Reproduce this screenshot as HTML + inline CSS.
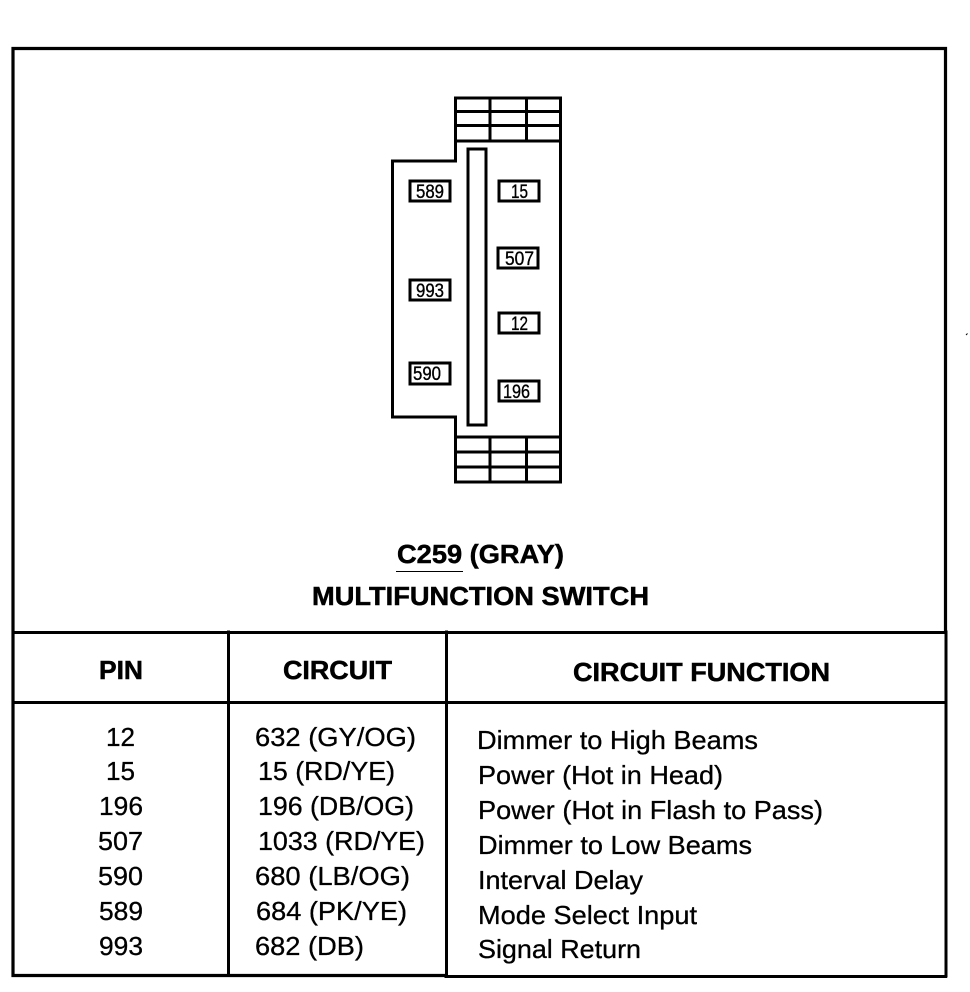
<!DOCTYPE html>
<html><head><meta charset="utf-8"><style>
html,body{margin:0;padding:0;background:#fff;width:970px;height:992px;overflow:hidden}
svg{display:block}
text{font-family:"Liberation Sans",sans-serif;fill:#000;stroke:#000;stroke-width:.3px}
.b{font-weight:bold;font-size:26px;stroke-width:.5px}
.r{font-size:26px}
.p{font-size:19px;stroke-width:.35px}
.l{stroke:#000;fill:none;stroke-linecap:square}
</style></head><body>
<svg width="970" height="992" viewBox="0 0 970 992" xmlns="http://www.w3.org/2000/svg">
<rect width="970" height="992" fill="#fff"/>
<!-- frame -->
<path class="l" stroke-width="3.2" d="M13 48.500H945.500V632M13 48.500V975.500H446"/>
<path class="l" stroke-width="3" d="M446 976.500H945.500M946 632V976M13 632.500H946M13 702.500H946M228.500 632V975M446.500 632V976"/>
<!-- connector -->
<path class="l" stroke-width="3" d="M455.500 98H560.500V482H455.500V437H560.500M455.500 98V161H392.500V417H455.500V437M455.500 111.500H560.500M455.500 125.500H560.500M455.500 141H560.500M455.500 452H560.500M455.500 467H560.500M490 98V141M526.500 98V141M490 437V482M526.500 437V482"/>
<rect class="l" stroke-width="3" x="468" y="149" width="18" height="276"/>
<g class="l" stroke-width="3">
<rect x="410" y="181" width="40" height="20"/>
<rect x="499" y="181" width="40" height="20"/>
<rect x="498" y="248" width="40" height="20"/>
<rect x="410" y="280" width="40" height="20"/>
<rect x="499" y="313" width="40" height="20"/>
<rect x="410" y="363" width="40" height="21"/>
<rect x="499" y="381" width="40" height="20"/>
</g>
<text class="p" x="416" y="198" textLength="28" lengthAdjust="spacingAndGlyphs">589</text>
<text class="p" x="511" y="198" textLength="17" lengthAdjust="spacingAndGlyphs">15</text>
<text class="p" x="505" y="265" textLength="29" lengthAdjust="spacingAndGlyphs">507</text>
<text class="p" x="416" y="297" textLength="28" lengthAdjust="spacingAndGlyphs">993</text>
<text class="p" x="511" y="330" textLength="17" lengthAdjust="spacingAndGlyphs">12</text>
<text class="p" x="413" y="380" textLength="28" lengthAdjust="spacingAndGlyphs">590</text>
<text class="p" x="503" y="398" textLength="27" lengthAdjust="spacingAndGlyphs">196</text>
<!-- titles -->
<text class="b" x="397" y="563" textLength="167" lengthAdjust="spacingAndGlyphs">C259 (GRAY)</text>
<path d="M396 571.500H463" stroke="#000" stroke-width="1"/>
<text class="b" x="312" y="605" textLength="337" lengthAdjust="spacingAndGlyphs">MULTIFUNCTION SWITCH</text>
<text class="b" x="99" y="679" textLength="44" lengthAdjust="spacingAndGlyphs">PIN</text>
<text class="b" x="283" y="679" textLength="109" lengthAdjust="spacingAndGlyphs">CIRCUIT</text>
<text class="b" x="573" y="681" textLength="257" lengthAdjust="spacingAndGlyphs">CIRCUIT FUNCTION</text>
<!-- pins -->
<text class="r" x="106" y="746" textLength="29" lengthAdjust="spacingAndGlyphs">12</text>
<text class="r" x="106" y="780" textLength="29" lengthAdjust="spacingAndGlyphs">15</text>
<text class="r" x="99" y="815" textLength="44" lengthAdjust="spacingAndGlyphs">196</text>
<text class="r" x="98" y="850" textLength="45" lengthAdjust="spacingAndGlyphs">507</text>
<text class="r" x="98" y="885" textLength="45" lengthAdjust="spacingAndGlyphs">590</text>
<text class="r" x="99" y="920" textLength="44" lengthAdjust="spacingAndGlyphs">589</text>
<text class="r" x="99" y="955" textLength="44" lengthAdjust="spacingAndGlyphs">993</text>
<!-- circuits -->
<text class="r" x="255" y="746" textLength="161" lengthAdjust="spacingAndGlyphs">632 (GY/OG)</text>
<text class="r" x="258" y="780" textLength="137" lengthAdjust="spacingAndGlyphs">15 (RD/YE)</text>
<text class="r" x="258" y="815" textLength="156" lengthAdjust="spacingAndGlyphs">196 (DB/OG)</text>
<text class="r" x="258" y="850" textLength="167" lengthAdjust="spacingAndGlyphs">1033 (RD/YE)</text>
<text class="r" x="255" y="885" textLength="155" lengthAdjust="spacingAndGlyphs">680 (LB/OG)</text>
<text class="r" x="256" y="920" textLength="151" lengthAdjust="spacingAndGlyphs">684 (PK/YE)</text>
<text class="r" x="255" y="955" textLength="109" lengthAdjust="spacingAndGlyphs">682 (DB)</text>
<!-- functions -->
<text class="r" x="477" y="749" textLength="281" lengthAdjust="spacingAndGlyphs">Dimmer to High Beams</text>
<text class="r" x="478" y="784" textLength="245" lengthAdjust="spacingAndGlyphs">Power (Hot in Head)</text>
<text class="r" x="478" y="819" textLength="345" lengthAdjust="spacingAndGlyphs">Power (Hot in Flash to Pass)</text>
<text class="r" x="478" y="854" textLength="274" lengthAdjust="spacingAndGlyphs">Dimmer to Low Beams</text>
<text class="r" x="478" y="889" textLength="165" lengthAdjust="spacingAndGlyphs">Interval Delay</text>
<text class="r" x="478" y="924" textLength="219" lengthAdjust="spacingAndGlyphs">Mode Select Input</text>
<text class="r" x="478" y="958" textLength="163" lengthAdjust="spacingAndGlyphs">Signal Return</text>
<path d="M966 335l1.500-1.500" stroke="#000" stroke-width="1"/>
</svg>
</body></html>
